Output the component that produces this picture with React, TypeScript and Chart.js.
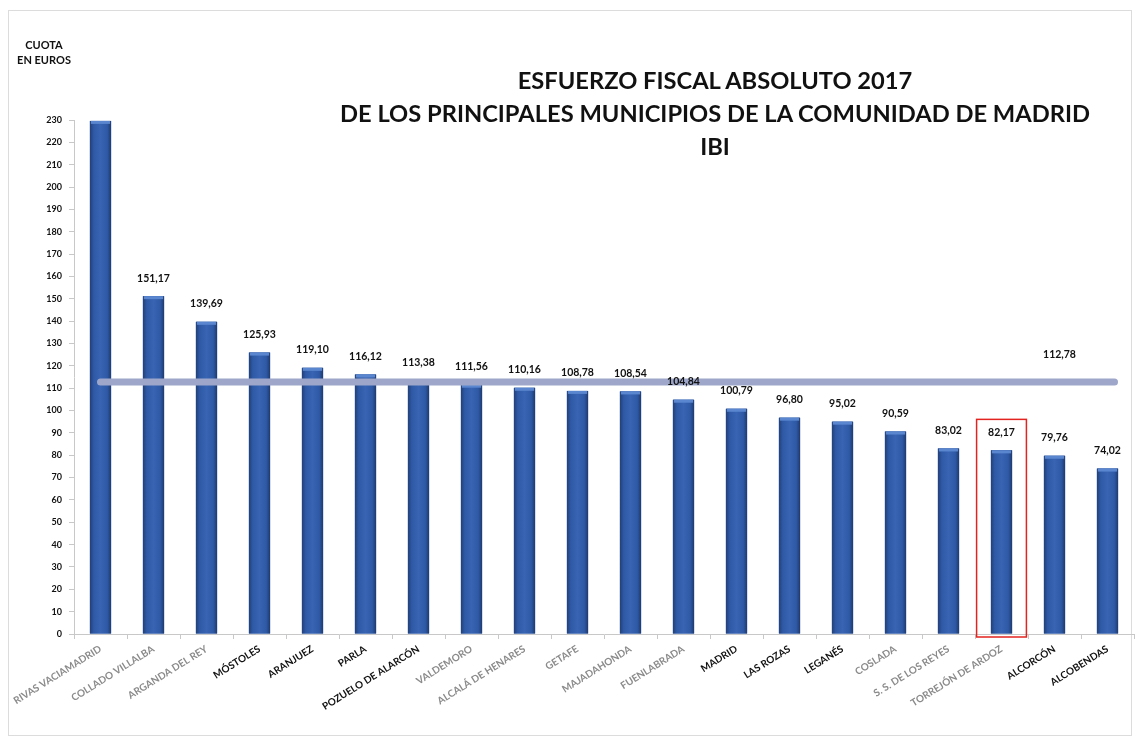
import { useEffect, useRef } from "react";
import { Chart, registerables } from "chart.js";

Chart.register(...registerables);

const CATEGORIES = [
  "RIVAS VACIAMADRID",
  "COLLADO VILLALBA",
  "ARGANDA DEL REY",
  "MÓSTOLES",
  "ARANJUEZ",
  "PARLA",
  "POZUELO DE ALARCÓN",
  "VALDEMORO",
  "ALCALÁ DE HENARES",
  "GETAFE",
  "MAJADAHONDA",
  "FUENLABRADA",
  "MADRID",
  "LAS ROZAS",
  "LEGANÉS",
  "COSLADA",
  "S. S. DE LOS REYES",
  "TORREJÓN DE ARDOZ",
  "ALCORCÓN",
  "ALCOBENDAS",
];

const CUOTA = [
  229.6, 151.17, 139.69, 125.93, 119.1, 116.12, 113.38, 111.56, 110.16, 108.78,
  108.54, 104.84, 100.79, 96.8, 95.02, 90.59, 83.02, 82.17, 79.76, 74.02,
];

const AVERAGE = 112.78;
const Y_MIN = 0;
const Y_MAX = 230;
const Y_STEP = 10;

const DARK_LABELS = [
  "MÓSTOLES",
  "ARANJUEZ",
  "PARLA",
  "POZUELO DE ALARCÓN",
  "MADRID",
  "LAS ROZAS",
  "LEGANÉS",
  "ALCORCÓN",
  "ALCOBENDAS",
];
const HIGHLIGHTED = "TORREJÓN DE ARDOZ";
const UNLABELED = ["RIVAS VACIAMADRID"];

const TITLE_LINES = [
  "ESFUERZO FISCAL ABSOLUTO 2017",
  "DE LOS PRINCIPALES MUNICIPIOS DE LA COMUNIDAD DE MADRID",
  "IBI",
];
const AXIS_TITLE_LINES = ["CUOTA", "EN EUROS"];

const FONT = "Lato, 'Open Sans', sans-serif";

const fmt = (v: number) => v.toFixed(2).replace(".", ",");

const overlayPlugin = {
  id: "overlay",
  afterDatasetsDraw(chart: any) {
    const { ctx } = chart;
    const x = chart.scales.x;
    const y = chart.scales.y;
    const meta = chart.getDatasetMeta(0);
    ctx.save();

    // bar shading (3D look)
    meta.data.forEach((bar: any) => {
      const w = bar.width;
      const left = bar.x - w / 2;
      const g = ctx.createLinearGradient(left, 0, left + w, 0);
      g.addColorStop(0, "#223f78");
      g.addColorStop(0.18, "#2e59a5");
      g.addColorStop(0.5, "#3864b3");
      g.addColorStop(0.82, "#2e59a5");
      g.addColorStop(1, "#1f3a6f");
      ctx.fillStyle = g;
      ctx.fillRect(left, bar.y, w, bar.base - bar.y);
      ctx.fillStyle = "#5a86cf";
      ctx.fillRect(left + 1, bar.y, w - 2, 3);
    });

    // average line
    const yAvg = y.getPixelForValue(AVERAGE);
    const xStart = x.getPixelForValue(0);
    const xEnd = x.getPixelForValue(CATEGORIES.length - 1) + 7;
    ctx.strokeStyle = "#9ea7ca";
    ctx.lineWidth = 7;
    ctx.lineCap = "round";
    ctx.beginPath();
    ctx.moveTo(xStart, yAvg);
    ctx.lineTo(xEnd, yAvg);
    ctx.stroke();

    // value labels
    ctx.font = `bold 10.5px ${FONT}`;
    ctx.fillStyle = "#111111";
    ctx.textAlign = "center";
    ctx.textBaseline = "middle";
    meta.data.forEach((bar: any, i: number) => {
      if (UNLABELED.includes(CATEGORIES[i])) return;
      ctx.fillText(fmt(CUOTA[i]), bar.x, bar.y - 18);
    });
    ctx.fillText(fmt(AVERAGE), x.getPixelForValue(CATEGORIES.length - 2) + 5, yAvg - 27);

    // highlight box
    const hi = CATEGORIES.indexOf(HIGHLIGHTED);
    if (hi >= 0) {
      const hb = meta.data[hi];
      const half = (x.getPixelForValue(1) - x.getPixelForValue(0)) * 0.47;
      const top = hb.y - 31;
      ctx.strokeStyle = "#e3231f";
      ctx.lineWidth = 1.5;
      ctx.strokeRect(hb.x - half, top, half * 2, y.bottom + 3 - top);
    }
    ctx.restore();
  },
};

export default function App() {
  const canvasRef = useRef<HTMLCanvasElement | null>(null);

  useEffect(() => {
    if (!canvasRef.current) return;
    const chart = new Chart(canvasRef.current, {
      type: "bar",
      data: {
        labels: CATEGORIES,
        datasets: [
          {
            label: "Cuota",
            data: CUOTA,
            backgroundColor: "#2e59a5",
            borderWidth: 0,
            barPercentage: 0.4,
            categoryPercentage: 1,
          },
        ],
      },
      options: {
        responsive: false,
        animation: false,
        layout: { padding: { top: 120, right: 2, left: 0, bottom: 0 } },
        plugins: {
          legend: { display: false },
          title: { display: false },
          tooltip: { enabled: false },
        },
        scales: {
          x: {
            afterFit: (s: any) => {
              s.height = 108;
            },
            grid: {
              display: true,
              drawOnChartArea: false,
              color: "#c8c8c8",
              tickLength: 5,
              offset: true,
            },
            border: { display: true, color: "#c8c8c8" },
            ticks: {
              autoSkip: false,
              minRotation: 32,
              maxRotation: 32,
              padding: 4,
              font: { family: FONT, size: 10, weight: "bold" },
              color: (c: any) =>
                DARK_LABELS.includes(CATEGORIES[c.index]) ? "#111111" : "#8a8a8a",
            },
          },
          y: {
            min: Y_MIN,
            max: Y_MAX,
            afterFit: (s: any) => {
              s.width = 74;
            },
            grid: {
              display: true,
              drawOnChartArea: false,
              color: "#c8c8c8",
              tickLength: 5,
            },
            border: { display: true, color: "#c8c8c8" },
            ticks: {
              stepSize: Y_STEP,
              padding: 7,
              font: { family: FONT, size: 9, weight: "bold" },
              color: "#111111",
            },
          },
        },
      },
      plugins: [overlayPlugin],
    });
    return () => chart.destroy();
  }, []);

  return (
    <div style={{ position: "fixed", left: 0, top: 0, width: 1136, height: 742, background: "#ffffff", overflow: "hidden" }}>
      <div
        style={{
          position: "absolute",
          left: 8,
          top: 10,
          width: 1124,
          height: 726,
          border: "1px solid #dcdcdc",
          boxSizing: "border-box",
        }}
      />
      <canvas ref={canvasRef} width={1136} height={742} style={{ position: "absolute", left: 0, top: 0 }} />
      <div
        style={{
          position: "absolute",
          left: 315,
          top: 64,
          width: 800,
          textAlign: "center",
          fontFamily: FONT,
          fontWeight: 700,
          fontSize: 23.7,
          lineHeight: "33px",
          color: "#111111",
        }}
      >
        {TITLE_LINES.map((t) => (
          <div key={t}>{t}</div>
        ))}
      </div>
      <div
        style={{
          position: "absolute",
          left: 8,
          top: 37,
          width: 72,
          textAlign: "center",
          fontFamily: FONT,
          fontWeight: 700,
          fontSize: 11,
          lineHeight: "15px",
          color: "#111111",
        }}
      >
        {AXIS_TITLE_LINES.map((t) => (
          <div key={t}>{t}</div>
        ))}
      </div>
    </div>
  );
}
